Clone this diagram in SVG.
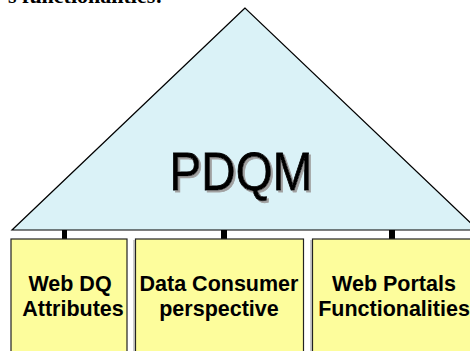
<svg xmlns="http://www.w3.org/2000/svg" width="470" height="351" viewBox="0 0 470 351">
<style>
.box{fill:#fdfd9c;stroke:#222;stroke-width:1.2}
.shadow{fill:none;stroke:#999;stroke-width:1}
.lbl{font-family:"Liberation Sans",Arial,sans-serif;font-weight:bold;font-size:21.5px;fill:#000;text-anchor:middle}
.stub{fill:#000}
</style>
<defs>
<filter id="ds" x="-10%" y="-10%" width="120%" height="130%">
<feOffset in="SourceAlpha" dx="2" dy="2" result="off"/>
<feFlood flood-color="#a0a0a0"/>
<feComposite in2="off" operator="in" result="sh"/>
<feMerge><feMergeNode in="sh"/><feMergeNode in="SourceGraphic"/></feMerge>
</filter>
</defs>
<rect width="470" height="351" fill="#fff"/>
<text x="8" y="3" font-family="Liberation Serif,serif" font-weight="bold" font-size="22" fill="#000">s functionalities:</text>
<g id="pdqm">
<polygon points="245,8 12,230 478,230" fill="#daf2f7" stroke="#000" stroke-width="1.2"/>
<text x="241" y="190" font-family="Liberation Sans,Arial,sans-serif" font-size="53" fill="#000" stroke="#000" stroke-width="0.8" text-anchor="middle" textLength="143" lengthAdjust="spacingAndGlyphs" filter="url(#ds)">PDQM</text>
</g>
<g id="connectors">
<rect class="stub" x="62" y="230" width="5" height="9"/>
<rect class="stub" x="221" y="230" width="6" height="9"/>
<rect class="stub" x="389" y="230" width="6" height="9"/>
</g>
<g id="web-dq">
<rect class="box" x="11" y="239" width="116" height="120"/>
<text class="lbl" x="70" y="291">Web DQ</text>
<text class="lbl" x="73" y="316">Attributes</text>
</g>
<g id="data-consumer">
<line class="shadow" x1="134" y1="240" x2="134" y2="351"/>
<rect class="box" x="135.5" y="239" width="168" height="120"/>
<text class="lbl" x="219" y="291">Data Consumer</text>
<text class="lbl" x="219" y="316">perspective</text>
</g>
<g id="web-portals">
<line class="shadow" x1="311" y1="240" x2="311" y2="351"/>
<rect class="box" x="312.5" y="239" width="170" height="120"/>
<text class="lbl" x="394" y="291">Web Portals</text>
<text class="lbl" x="394" y="316">Functionalities</text>
</g>
</svg>
